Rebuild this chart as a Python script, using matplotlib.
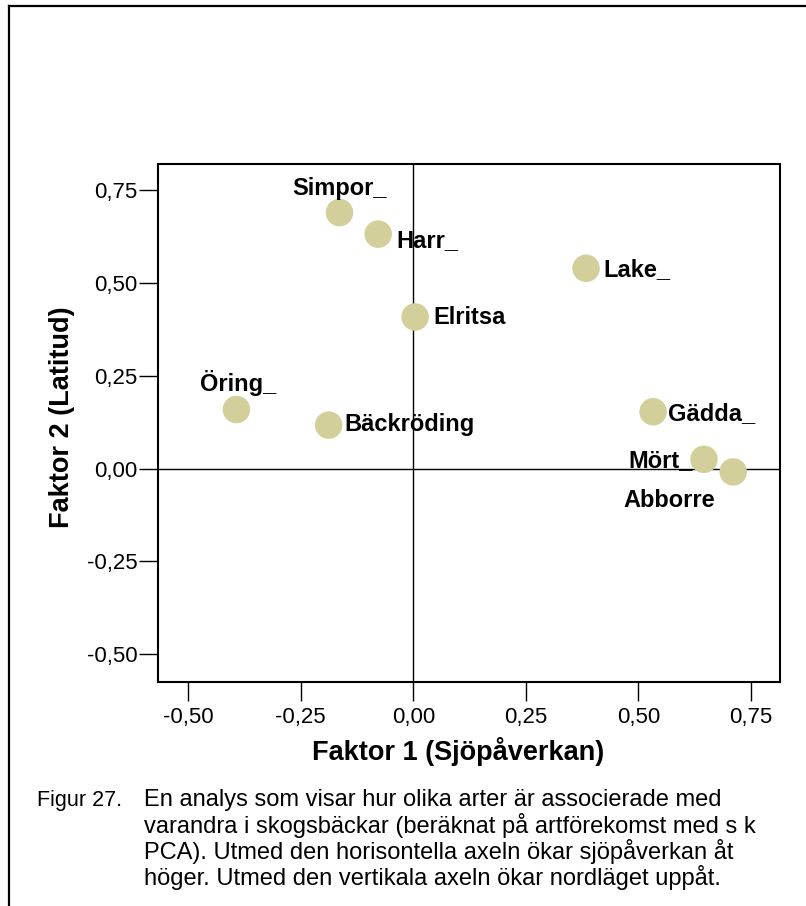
import matplotlib
matplotlib.use("Agg")
import matplotlib.pyplot as plt
from matplotlib.ticker import FuncFormatter, FixedLocator
from matplotlib.lines import Line2D

# ---- data ----
species = ["Simpor_", "Harr_", "Lake_", "Elritsa", "Öring_", "Bäckröding",
           "Gädda_", "Mört_", "Abborre"]
factor1 = [-0.164, -0.078, 0.384, 0.004, -0.393, -0.188, 0.533, 0.646, 0.711]
factor2 = [0.689, 0.631, 0.539, 0.408, 0.159, 0.117, 0.153, 0.025, -0.009]
xticks = [-0.50, -0.25, 0.00, 0.25, 0.50, 0.75]
yticks = [-0.50, -0.25, 0.00, 0.25, 0.50, 0.75]
xlabel = "Faktor 1 (Sjöpåverkan)"
ylabel = "Faktor 2 (Latitud)"
caption_head = "Figur 27."
caption_lines = [
    "En analys som visar hur olika arter är associerade med",
    "varandra i skogsbäckar (beräknat på artförekomst med s k",
    "PCA). Utmed den horisontella axeln ökar sjöpåverkan åt",
    "höger. Utmed den vertikala axeln ökar nordläget uppåt.",
]

# label placement (pixel offsets from point, horizontal alignment)
label_layout = {
    "Simpor_": (0, 18, "center"),
    "Harr_": (18, -13, "left"),
    "Lake_": (17, -8, "left"),
    "Elritsa": (18, -7, "left"),
    "Öring_": (2, 18, "center"),
    "Bäckröding": (16, -6, "left"),
    "Gädda_": (15, -8, "left"),
    "Mört_": (-11, -8, "right"),
    "Abborre": (-64, -35, "center"),
}

plt.rcParams["font.family"] = ["Liberation Sans", "DejaVu Sans"]
plt.rcParams["axes.unicode_minus"] = False

W, H = 806, 906
fig = plt.figure(figsize=(W / 100, H / 100), dpi=100)

# outer frame (top and left lines)
fig.add_artist(Line2D([9 / W, 1.0], [1 - 6 / H, 1 - 6 / H], color="black", lw=1.6,
                      transform=fig.transFigure))
fig.add_artist(Line2D([9 / W, 9 / W], [0.0, 1 - 6 / H], color="black", lw=1.6,
                      transform=fig.transFigure))

ax = fig.add_axes([157.7 / W, 1 - 681.5 / H, (780 - 157.7) / W, (681.5 - 163.5) / H])
ax.set_xlim(-0.568, 0.815)
ax.set_ylim(-0.573, 0.821)

ax.axhline(0, color="black", lw=1.0, zorder=1)
ax.axvline(0, color="black", lw=1.0, zorder=1)

ax.scatter(factor1, factor2, s=392, color="#D3CF9B", edgecolors="none", zorder=2)

for name, x, y in zip(species, factor1, factor2):
    dx, dy, ha = label_layout[name]
    ax.annotate(name, (x, y), xytext=(dx, dy), textcoords="offset pixels",
                ha=ha, va="baseline", fontsize=17, fontweight="bold", zorder=3)

fmt = FuncFormatter(lambda v, p: f"{v:.2f}".replace(".", ","))
ax.xaxis.set_major_locator(FixedLocator(xticks))
ax.yaxis.set_major_locator(FixedLocator(yticks))
ax.xaxis.set_major_formatter(fmt)
ax.yaxis.set_major_formatter(fmt)
ax.tick_params(axis="both", direction="out", length=13.5, width=1.0,
               labelsize=16, color="black")
ax.tick_params(axis="x", pad=5)
ax.tick_params(axis="y", pad=1)
for sp in ax.spines.values():
    sp.set_linewidth(1.5)

# axis titles
fig.text(458 / W, 1 - 751 / H, xlabel, ha="center", va="center",
         fontsize=19.5, fontweight="bold")
fig.text(62 / W, 1 - 417 / H, ylabel, ha="center", va="center",
         rotation=90, fontsize=19.5, fontweight="bold")

# caption
base = 806
for i, line in enumerate(caption_lines):
    fig.text(144 / W, 1 - (base + 26.5 * i) / H, line, ha="left", va="baseline",
             fontsize=17)
fig.text(37 / W, 1 - base / H, caption_head, ha="left", va="baseline", fontsize=15.5)

fig.savefig("out.png", dpi=100)
